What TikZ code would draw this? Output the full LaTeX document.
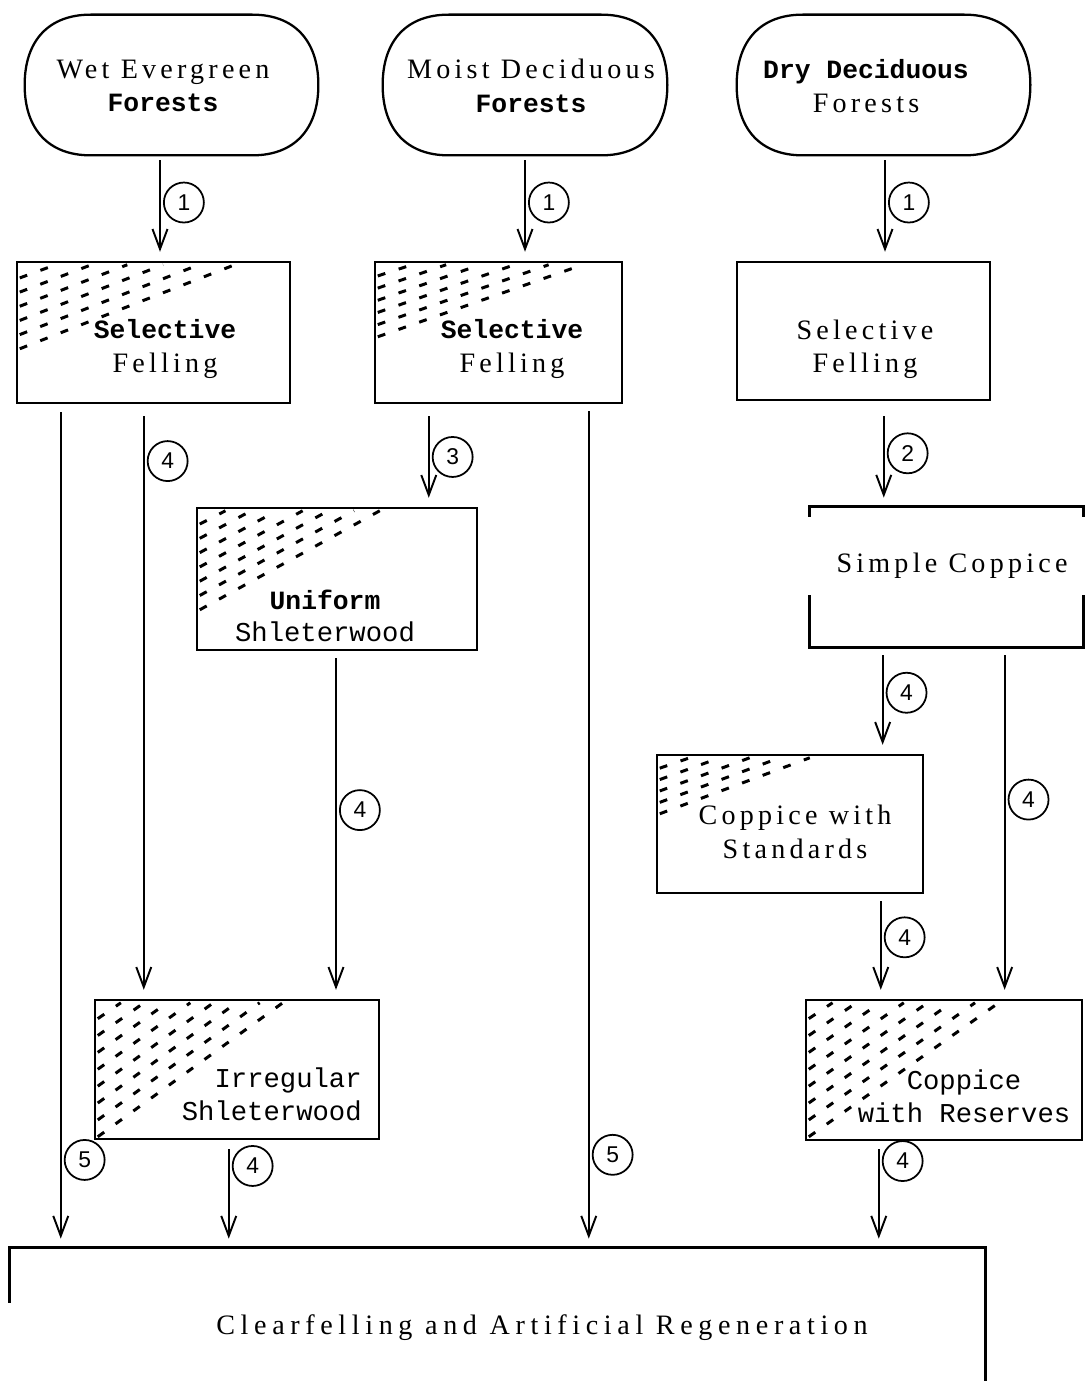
\documentclass[tikz,border=0pt]{standalone}
\usepackage{fontspec}
\setmainfont{Liberation Serif}
\setmonofont{Liberation Mono}
\setsansfont{Liberation Sans}
\newfontfamily\spacedserif{Liberation Serif}[LetterSpace=15]
\newfontfamily\widesserif{Liberation Serif}[LetterSpace=20]
\usetikzlibrary{arrows.meta,calc}
\newcommand\pxl{0.02cm}
\newcommand\monob{\ttfamily\bfseries\fontsize{15}{19}\selectfont}
\newcommand\hatchcorner[4]{%
  \foreach \k in {1,...,#4}
    \draw[hatchline] ($(#1.north west)+(4,{3+\k*#3/#4})$) -- ($(#1.north west)+({4+\k*#2/#4},4)$);%
}
\newcommand\ovalframe[1]{%
  \draw[ovalline] (#1.west)
    .. controls ($(#1.north west)+(0,26)$) and ($(#1.north west)+(24,0)$) .. ($(#1.north west)+(66,0)$)
    -- ($(#1.north east)+(-66,0)$)
    .. controls ($(#1.north east)+(-24,0)$) and ($(#1.north east)+(0,26)$) .. (#1.east)
    .. controls ($(#1.south east)+(0,-26)$) and ($(#1.south east)+(-24,0)$) .. ($(#1.south east)+(-66,0)$)
    -- ($(#1.south west)+(66,0)$)
    .. controls ($(#1.south west)+(24,0)$) and ($(#1.south west)+(0,-26)$) .. cycle;%
}
\tikzset{
  ovalline/.style={line width=1.3pt},
  forestoval/.style={inner sep=0pt},
  stagebox/.style={
    draw,
    line width=1.4pt,
    inner sep=0pt
  },
  openbox/.style={inner sep=0pt},
  boxline/.style={line width=1.4pt},
  textblock/.style={
    align=center,
    inner sep=0pt,
    font=\spacedserif\fontsize{16}{19}\selectfont
  },
  monoblock/.style={
    textblock,
    font=\ttfamily\fontsize{15.5}{18.7}\selectfont
  },
  flow/.style={-{Straight Barb[length=0.4cm,width=0.3cm]},line width=1.1pt,shorten >=0.18cm},
  numcirc/.style={
    draw,
    circle,
    line width=1pt,
    minimum size=0.8cm,
    inner sep=0pt,
    anchor=west,
    xshift=0.06cm,
    font=\sffamily\fontsize{13}{13}\selectfont
  },
  hatchline/.style={line width=1.7pt,dash pattern=on 4.5pt off 8pt}
}

\begin{document}
\begin{tikzpicture}[x=0.02cm,y=-0.02cm]
  \useasboundingbox (0,0) rectangle (1084,1381);

  \node[forestoval,minimum width=293*\pxl,minimum height=140*\pxl] (wet) at (171.5,85) {};
  \node[forestoval,minimum width=284*\pxl,minimum height=140*\pxl] (moist) at (525,85) {};
  \node[forestoval,minimum width=293*\pxl,minimum height=140*\pxl] (dry) at (883.5,85) {};
  \ovalframe{wet}
  \ovalframe{moist}
  \ovalframe{dry}
  \node[textblock] (wettxt) at (163,86) {Wet Evergreen\\{\monob Forests}};
  \node[textblock] (moisttxt) at (531,86) {Moist Deciduous\\{\monob Forests}};
  \node[textblock] (drytxt) at (866,86) {{\monob Dry Deciduous}\\Forests};

  \node[stagebox,minimum width=273*\pxl,minimum height=141*\pxl] (sfa) at (153.5,332.5) {};
  \node[stagebox,minimum width=247*\pxl,minimum height=141*\pxl] (sfb) at (498.5,332.5) {};
  \node[stagebox,minimum width=253*\pxl,minimum height=138*\pxl] (sfc) at (863.5,331) {};
  \node[textblock] (sfatxt) at (165,349) {{\monob Selective}\\Felling};
  \node[textblock] (sfbtxt) at (512,349) {{\monob Selective}\\Felling};
  \node[textblock] (sfctxt) at (865,349) {Selective\\Felling};

  \node[stagebox,minimum width=280*\pxl,minimum height=142*\pxl] (uni) at (337,579) {};
  \node[monoblock] (unitxt) at (325,616) {{\monob Uniform}\\Shleterwood};
  \node[openbox,minimum width=273*\pxl,minimum height=140*\pxl] (simple) at (946.5,577) {};
  \node[textblock] (simpletxt) at (952,566) {Simple Coppice};
  \node[stagebox,minimum width=266*\pxl,minimum height=138*\pxl] (cws) at (790,824) {};
  \node[textblock] (cwstxt) at (795,832) {Coppice with\\Standards};

  \node[stagebox,minimum width=284*\pxl,minimum height=139*\pxl] (irr) at (237,1069.5) {};
  \node[monoblock,align=right,anchor=east] (irrtxt) at (362,1094) {Irregular\\Shleterwood};
  \node[stagebox,minimum width=276*\pxl,minimum height=140*\pxl] (cwr) at (944,1070) {};
  \node[monoblock] (cwrtxt) at (964,1096) {Coppice\\with Reserves};

  \node[openbox,minimum width=975*\pxl,minimum height=134*\pxl] (clear) at (497.5,1315) {};
  \node[textblock,font=\widesserif\fontsize{16}{19}\selectfont] (cleartxt) at (542,1328) {Clearfelling and Artificial Regeneration};

  \draw[boxline] ($(simple.north west)+(0,10)$) -- (simple.north west) -- (simple.north east) -- ++(0,10);
  \draw[boxline] ($(simple.south west)+(0,-52)$) -- (simple.south west) -- (simple.south east) -- ++(0,-52);
  \draw[boxline] ($(clear.north west)+(0,55)$) -- (clear.north west) -- (clear.north east) -- ++(0,140);

  \hatchcorner{sfa}{215}{85}{6}
  \hatchcorner{sfb}{205}{73}{6}
  \hatchcorner{uni}{180}{100}{7}
  \hatchcorner{cws}{150}{57}{5}
  \hatchcorner{irr}{185}{135}{8}
  \hatchcorner{cwr}{190}{135}{8}

  \draw[flow] ($(wet.south)+(-11.5,5)$) coordinate (fwet) -- (fwet |- sfa.north) node[numcirc,pos=.42] {1};
  \draw[flow] ($(moist.south)+(0,5)$) coordinate (fmoist) -- (fmoist |- sfb.north) node[numcirc,pos=.42] {1};
  \draw[flow] ($(dry.south)+(1.5,5)$) coordinate (fdry) -- (fdry |- sfc.north) node[numcirc,pos=.42] {1};

  \draw[flow] ($(sfa.south west)+(45,8)$) coordinate (fsfa) -- (fsfa |- clear.north) node[numcirc,pos=.895] {5};
  \draw[flow] ($(sfa.south west)+(128,12)$) coordinate (fsfairr) -- (fsfairr |- irr.north) node[numcirc,pos=.077] {4};
  \draw[flow] ($(sfb.south west)+(55,12)$) coordinate (fsfb) -- (fsfb |- uni.north) node[numcirc,pos=.45] {3};
  \draw[flow] ($(sfb.south west)+(215,7)$) coordinate (fsfbclr) -- (fsfbclr |- clear.north) node[numcirc,pos=.889] {5};
  \draw[flow] ($(sfc.south west)+(148,15)$) coordinate (fsfc) -- (fsfc |- simple.north) node[numcirc,pos=.41] {2};

  \draw[flow] ($(uni.south)+(-1,7)$) coordinate (funi) -- (funi |- irr.north) node[numcirc,pos=.446] {4};
  \draw[flow] ($(simple.south west)+(73,8)$) coordinate (fsimple) -- (fsimple |- cws.north) node[numcirc,pos=.38] {4};
  \draw[flow] ($(simple.south west)+(195,8)$) coordinate (fsimplecwr) -- (fsimplecwr |- cwr.north) node[numcirc,pos=.42] {4};
  \draw[flow] ($(cws.south west)+(225,7)$) coordinate (fcws) -- (fcws |- cwr.north) node[numcirc,pos=.37] {4};

  \draw[flow] ($(irr.south west)+(135,9)$) coordinate (firr) -- (firr |- clear.north) node[numcirc,pos=.17] {4};
  \draw[flow] ($(cwr.south west)+(74,8)$) coordinate (fcwr) -- (fcwr |- clear.north) node[numcirc,pos=.12] {4};
\end{tikzpicture}
\end{document}
